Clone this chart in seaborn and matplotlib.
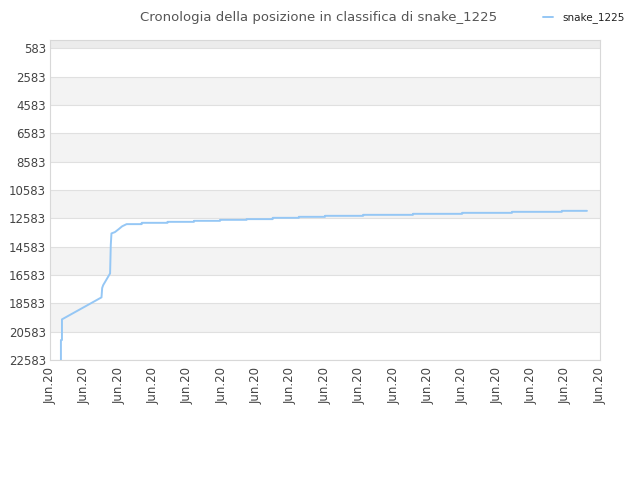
import matplotlib
matplotlib.use("Agg")
import matplotlib.pyplot as plt
import seaborn as sns
import pandas as pd

# time positions (tick units) and ranks, step corners included
t = [0.32, 0.32, 0.35, 0.35, 1.50, 1.52, 1.55, 1.75, 1.77, 1.79, 1.89, 2.00, 2.10, 2.23,
     2.67, 2.67, 3.42, 3.42, 4.19, 4.19, 4.95, 4.95, 5.72, 5.72, 6.48, 6.48,
     7.24, 7.24, 8.00, 8.00, 9.11, 9.11, 10.56, 10.56, 11.99, 11.99,
     13.44, 13.44, 14.89, 14.89, 15.62]
rank = [22583, 21175, 21175, 19716, 18164, 17500, 17297, 16472, 14475, 13650, 13559, 13350, 13150, 12995,
        12995, 12903, 12903, 12833, 12833, 12762, 12762, 12691, 12691, 12642, 12642, 12550,
        12550, 12480, 12480, 12409, 12409, 12339, 12339, 12268, 12268, 12198,
        12198, 12127, 12127, 12057, 12057]

yticks = [583, 2583, 4583, 6583, 8583, 10583, 12583, 14583, 16583, 18583, 20583, 22583]
xticks = list(range(17))
xlabels = ["Jun.20"] * 17

df = pd.DataFrame({"t": t, "rank": rank, "player": "snake_1225"})

sns.set_style("white")
fig = plt.figure(figsize=(6.4, 4.8), dpi=100)
ax = fig.add_axes([0.078, 0.25, 0.8595, 0.6667])

# alternating background bands
ax.axhspan(0, 583, color="#ececec", zorder=0, lw=0)
for i in range(len(yticks) - 1):
    if i % 2 == 1:
        ax.axhspan(yticks[i], yticks[i + 1], color="#f3f3f3", zorder=0, lw=0)
for y in yticks:
    ax.axhline(y, color="#e0e0e0", lw=0.8, zorder=1)

sns.lineplot(data=df, x="t", y="rank", hue="player", palette=["#95c7f5"],
             sort=False, estimator=None, lw=1.4, ax=ax, zorder=3)

ax.set_xlim(0, 16)
ax.set_ylim(22583, 0)
ax.set_yticks(yticks)
ax.set_yticklabels([str(v) for v in yticks])
ax.set_xticks(xticks)
ax.set_xticklabels(xlabels, rotation=90)
ax.tick_params(axis="y", labelsize=8.5, colors="#444444", length=0, pad=3)
ax.tick_params(axis="x", labelsize=8.5, colors="#444444", length=0, pad=5)
ax.set_xlabel("")
ax.set_ylabel("")
for s in ax.spines.values():
    s.set_color("#d8d8d8")
    s.set_linewidth(0.8)

fig.text(0.497, 0.977, "Cronologia della posizione in classifica di snake_1225",
         ha="center", va="top", fontsize=9.5, color="#555555")
leg = ax.legend(loc="upper left", bbox_to_anchor=(0.88, 1.115), frameon=False,
                fontsize=7.5, handlelength=0.9, handletextpad=0.9)
for txt in leg.get_texts():
    txt.set_color("#222222")

fig.savefig("out.png", dpi=100)
